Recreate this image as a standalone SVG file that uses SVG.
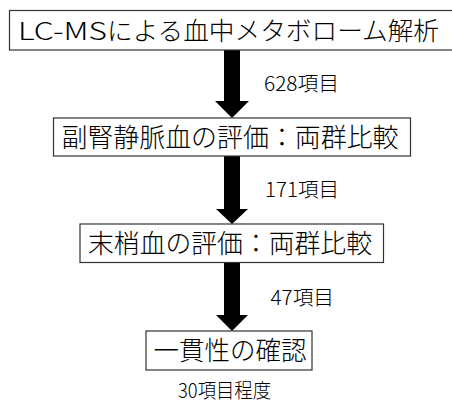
<svg xmlns="http://www.w3.org/2000/svg" width="452" height="405" viewBox="0 0 452 405">
<style>
.box{fill:#fff;stroke:#333;stroke-width:1.2}
.t{font-family:"Noto Sans CJK JP","Noto Sans",sans-serif;font-weight:300;fill:#000}
.big{font-size:26px}
.lbl{font-size:20px}
.arr{fill:#000}
</style>
<rect width="452" height="405" fill="#fff"/>
<g id="connectors">
<polygon class="arr" points="224,50 240,50 240,101 249,101 232,118 215,101 224,101"/>
<polygon class="arr" points="224,156 240,156 240,209 248,209 232,224 216,209 224,209"/>
<polygon class="arr" points="224,263 240,263 240,315 248,315 232,331 216,315 224,315"/>
</g>
<g id="node1">
<rect class="box" x="9.5" y="10.5" width="450" height="39.5"/>
<text class="t" x="18" y="39.5" font-size="25"><tspan textLength="89" lengthAdjust="spacingAndGlyphs">LC-MS</tspan><tspan textLength="332" lengthAdjust="spacingAndGlyphs">による血中メタボローム解析</tspan></text>
</g>
<g id="node2">
<rect class="box" x="53.5" y="118" width="357" height="38"/>
<text class="t big" x="61.5" y="146.5" textLength="337" lengthAdjust="spacingAndGlyphs">副腎静脈血の評価：両群比較</text>
</g>
<g id="node3">
<rect class="box" x="80" y="224" width="303.5" height="38.5"/>
<text class="t big" x="88" y="253" textLength="284" lengthAdjust="spacingAndGlyphs">末梢血の評価：両群比較</text>
</g>
<g id="node4">
<rect class="box" x="146" y="331" width="166" height="39"/>
<text class="t big" x="153.5" y="360" textLength="153" lengthAdjust="spacingAndGlyphs">一貫性の確認</text>
</g>
<g id="labels">
<text class="t lbl" x="264" y="91" textLength="75" lengthAdjust="spacingAndGlyphs">628項目</text>
<text class="t lbl" x="265" y="197" textLength="74" lengthAdjust="spacingAndGlyphs">171項目</text>
<text class="t lbl" x="270.5" y="304.5" textLength="63.5" lengthAdjust="spacingAndGlyphs">47項目</text>
<text class="t lbl" x="178" y="398" textLength="93" lengthAdjust="spacingAndGlyphs">30項目程度</text>
</g>
</svg>
